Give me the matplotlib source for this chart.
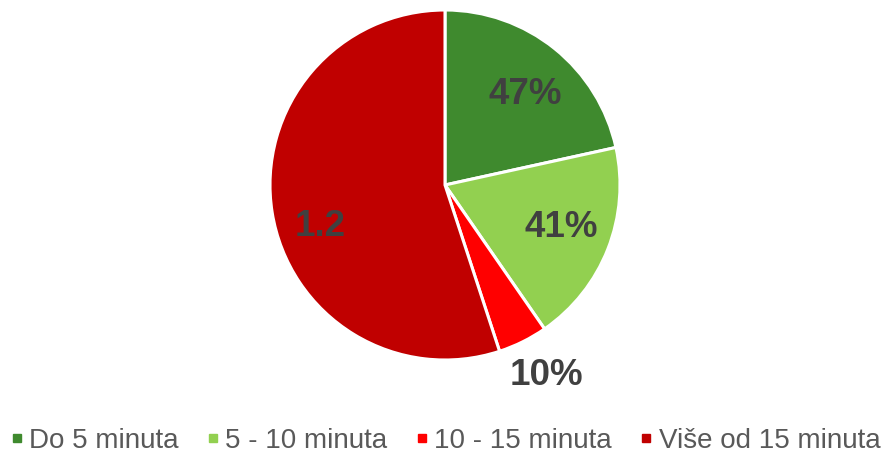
# -*- coding: utf-8 -*-

# 使用するモジュールの宣言
import numpy as np
import matplotlib
matplotlib.use("Agg")
import matplotlib.pyplot as plt
from matplotlib.lines import Line2D

# --------------------
# データ
# --------------------
# 凡例のカテゴリ
categories = ["Do 5 minuta", "5 - 10 minuta", "10 - 15 minuta", "Više od 15 minuta"]

# 各カテゴリの値（元のグラフのまま、最後だけ 1.2）
values = [0.47, 0.41, 0.10, 1.2]

# スライス上に表示されるラベル
value_labels = ["47%", "41%", "10%", "1.2"]

# 各スライスの色
colors = ["#3F8A2E", "#92D050", "#FF0000", "#C00000"]

# ラベルを置く中心からの距離（半径に対する比）と、中央角からのずれ（度）
label_distances = [0.70, 0.70, 1.22, 0.75]
label_angle_offsets = [-2.0, 2.5, 2.0, 8.3]

if __name__ == '__main__':
    # フォントの設定
    plt.rcParams['font.family'] = ['Liberation Sans', 'DejaVu Sans']

    # キャンバスを作成する（884x455 ピクセル）
    fig = plt.figure(figsize=(8.84, 4.55), dpi=100)

    # 円の中心 (445, 185)、半径 175 ピクセルとなるように軸を配置する
    cx, cy, r = 445.0, 185.0, 175.0
    W, H = 884.0, 455.0
    ax = fig.add_axes([(cx - r) / W, (H - cy - r) / H, 2 * r / W, 2 * r / H])

    # 円グラフを描画する（12時の位置から時計回り）
    wedges, _ = ax.pie(values, colors=colors, startangle=90, counterclock=False,
                       radius=1.0, center=(0, 0),
                       wedgeprops=dict(edgecolor="white", linewidth=2.2))

    ax.set_xlim(-1, 1)
    ax.set_ylim(-1, 1)
    ax.set_aspect("equal")
    ax.axis("off")

    # 各スライスの中央角付近にラベルを置く
    for wedge, text, dist, off in zip(wedges, value_labels, label_distances, label_angle_offsets):
        ang = np.deg2rad((wedge.theta1 + wedge.theta2) / 2.0 + off)
        x = dist * np.cos(ang)
        y = dist * np.sin(ang) - 0.015
        ax.text(x, y, text, ha="center", va="center", fontsize=26.5,
                fontweight="bold", color="#404040", clip_on=False)

    # 凡例を作成する
    handles = [Line2D([0], [0], marker="s", linestyle="none", markersize=6,
                      markerfacecolor=c, markeredgecolor=c) for c in colors]
    leg = fig.legend(handles, categories, loc="center", bbox_to_anchor=(0.505, 0.031),
                     ncol=4, frameon=False, fontsize=20, handlelength=0.3,
                     handletextpad=0.3, columnspacing=1.08, borderaxespad=0,
                     borderpad=0)
    for t in leg.get_texts():
        t.set_color("#595959")

    # 画像を保存する
    fig.savefig("out.png", dpi=100)
